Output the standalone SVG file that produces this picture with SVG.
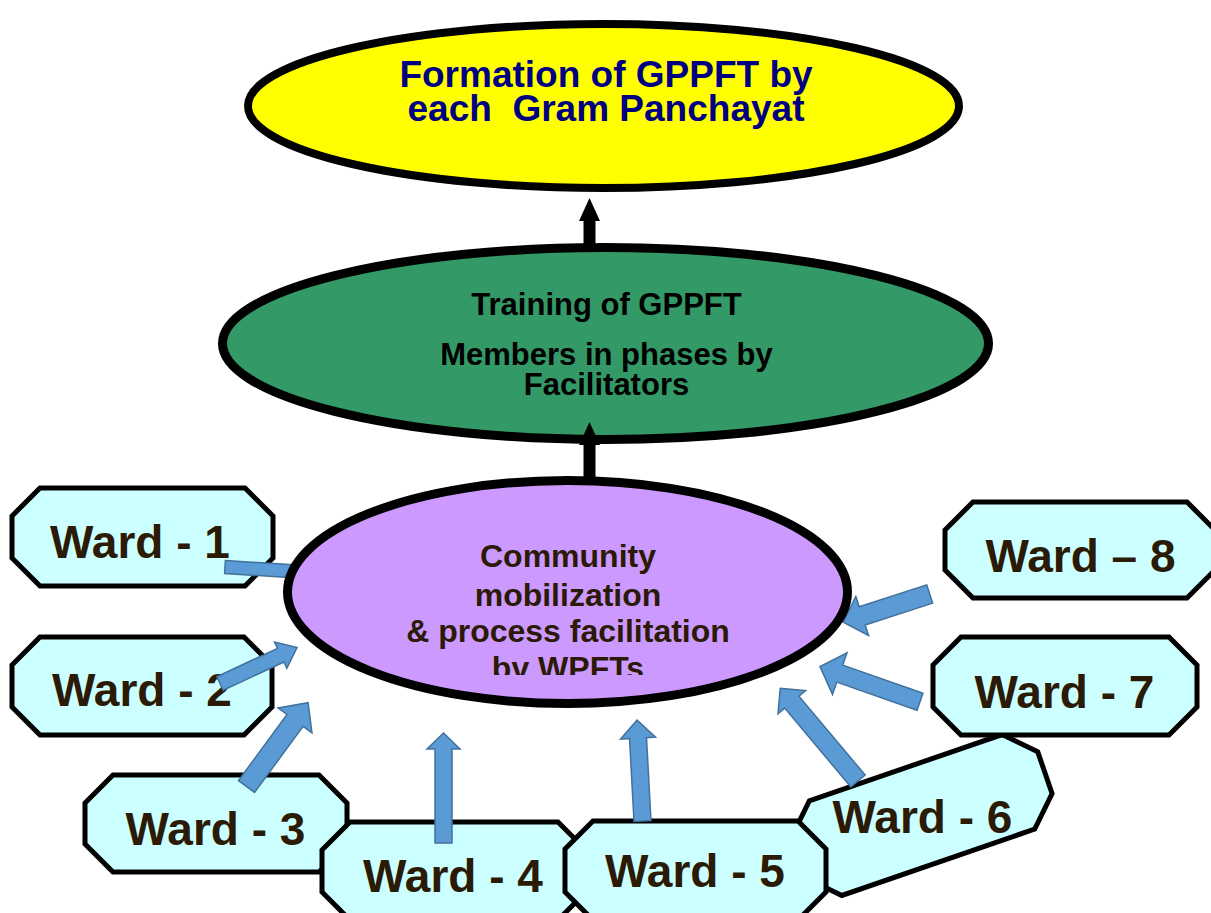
<svg xmlns="http://www.w3.org/2000/svg" width="1211" height="913" viewBox="0 0 1211 913">
  <defs>
    <style>
      .t { font-family: "Liberation Sans", Arial, sans-serif; font-weight: bold; text-anchor: middle; }
      .ward { fill: #ccffff; stroke: #000; stroke-width: 5; stroke-linejoin: miter; }
      .wtxt { font-size: 46px; fill: #2b1a05; }
      .blue { fill: #5b9bd5; stroke: #41719c; stroke-width: 1.5; stroke-linejoin: miter; }
      .flow { stroke: #000; stroke-width: 12; fill: none; }
    </style>
    <marker id="head" viewBox="0 0 23 21" refX="1" refY="10.5" markerWidth="23" markerHeight="21" markerUnits="userSpaceOnUse" orient="auto">
      <path d="M0,0 L23,10.5 L0,21 z" fill="#000"/>
    </marker>
    <clipPath id="purpleClip">
      <rect x="280" y="470" width="580" height="205"/>
    </clipPath>
  </defs>

  <rect width="1211" height="913" fill="#fff"/>

  <!-- top goal -->
  <g id="formation">
    <ellipse cx="603.5" cy="106" rx="355.5" ry="82" fill="#ffff00" stroke="#000" stroke-width="8"/>
    <text class="t" font-size="37" fill="#000080" x="606" y="87">Formation of GPPFT by</text>
    <text class="t" font-size="37" fill="#000080" x="606" y="121" xml:space="preserve">each  Gram Panchayat</text>
  </g>

  <!-- training stage -->
  <g id="training">
    <ellipse cx="605.5" cy="343.5" rx="383" ry="96" fill="#339966" stroke="#000" stroke-width="9"/>
    <text class="t" font-size="31" fill="#000" x="606.5" y="315">Training of GPPFT</text>
    <text class="t" font-size="31" fill="#000" x="606.5" y="365">Members in phases by</text>
    <text class="t" font-size="31" fill="#000" x="606.5" y="395">Facilitators</text>
  </g>

  <!-- ward boxes -->
  <g id="ward-1">
    <polygon class="ward" points="40,488 245,488 273,516 273,558 245,586 40,586 12,558 12,516"/>
    <text class="t wtxt" x="140" y="558">Ward - 1</text>
  </g>
  <g id="ward-2">
    <polygon class="ward" points="40,637 244,637 272,665 272,707 244,735 40,735 12,707 12,665"/>
    <text class="t wtxt" x="142" y="706">Ward - 2</text>
  </g>
  <g id="ward-3">
    <polygon class="ward" points="113,775 319,775 347,803 347,844 319,872 113,872 85,844 85,803"/>
    <text class="t wtxt" x="215.5" y="845">Ward - 3</text>
  </g>
  <g id="ward-4">
    <polygon class="ward" points="350,822 558,822 586,850 586,892 558,920 350,920 322,892 322,850"/>
    <text class="t wtxt" x="453" y="892">Ward - 4</text>
  </g>
  <g id="ward-6">
    <polygon class="ward" transform="translate(922,815) rotate(-19)" points="-102,-50 102,-50 130,-22 130,22 102,50 -102,50 -130,22 -130,-22"/>
    <text class="t wtxt" x="922.5" y="833">Ward - 6</text>
  </g>
  <g id="ward-5">
    <polygon class="ward" points="593,821 798,821 826,849 826,892 798,920 593,920 565,892 565,849"/>
    <text class="t wtxt" x="695" y="887">Ward - 5</text>
  </g>
  <g id="ward-7">
    <polygon class="ward" points="961,637 1169,637 1197,665 1197,707 1169,735 961,735 933,707 933,665"/>
    <text class="t wtxt" x="1064.5" y="708">Ward - 7</text>
  </g>
  <g id="ward-8">
    <polygon class="ward" points="973,502 1187,502 1215,530 1215,570 1187,598 973,598 945,570 945,530"/>
    <text class="t wtxt" x="1080.5" y="572">Ward – 8</text>
  </g>

  <!-- connectors -->
  <g id="connectors">
    <polygon class="blue" transform="translate(225,567) rotate(3.5)" points="0,-6.5 72,-6.5 72,-14 90,0 72,14 72,6.5 0,6.5"/>
    <polygon class="blue" transform="translate(220,683.5) rotate(-25)" points="0,-7.5 67,-7.5 67,-14.5 85,0 67,14.5 67,7.5 0,7.5"/>
    <polygon class="blue" transform="translate(246.5,786.5) rotate(-53.7)" points="0,-10 82,-10 82,-21 104,0 82,21 82,10 0,10"/>
    <polygon class="blue" transform="translate(443.5,843) rotate(-90)" points="0,-8.5 94,-8.5 94,-16.5 110,0 94,16.5 94,8.5 0,8.5"/>
    <polygon class="blue" transform="translate(642.5,821) rotate(-93.1)" points="0,-8.5 83,-8.5 83,-17.5 101,0 83,17.5 83,8.5 0,8.5"/>
    <polygon class="blue" transform="translate(858,781) rotate(-130)" points="0,-9.3 103,-9.3 103,-18 121,0 103,18 103,9.3 0,9.3"/>
    <polygon class="blue" transform="translate(920,701.7) rotate(-160.7)" points="0,-9 85,-9 85,-22 106,0 85,22 85,9 0,9"/>
    <polygon class="blue" transform="translate(929.7,594) rotate(162)" points="0,-9.6 71,-9.6 71,-20.5 91,0 71,20.5 71,9.6 0,9.6"/>
    <line class="flow" x1="589.5" y1="246" x2="589.5" y2="220" marker-end="url(#head)"/>
    <line class="flow" x1="589.5" y1="488" x2="589.5" y2="444" marker-end="url(#head)"/>
  </g>

  <!-- community stage -->
  <g id="community">
    <ellipse cx="567.5" cy="592" rx="280" ry="111.5" fill="#cc99ff" stroke="#000" stroke-width="9"/>
    <g clip-path="url(#purpleClip)" class="t" font-size="32" fill="#2b1a05">
      <text class="t" x="568" y="567">Community</text>
      <text class="t" x="568" y="606">mobilization</text>
      <text class="t" x="568" y="642">&amp; process facilitation</text>
      <text class="t" x="568" y="679">bv WPFTs</text>
    </g>
  </g>
</svg>
